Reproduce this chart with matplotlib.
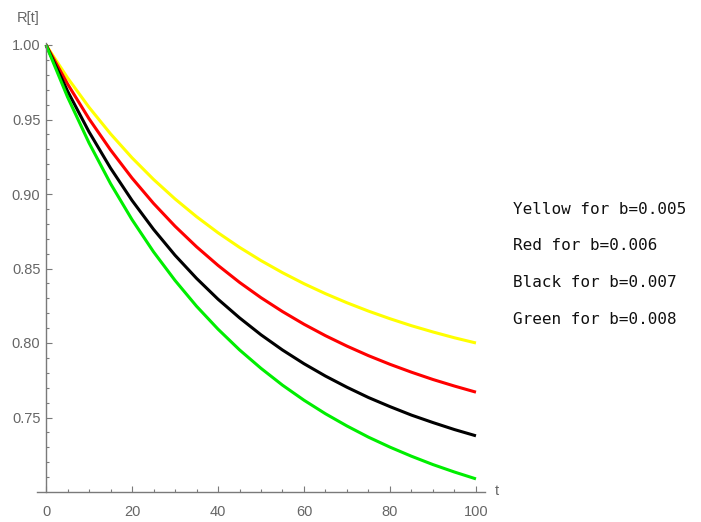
import matplotlib
matplotlib.use("Agg")
import matplotlib.pyplot as plt
import numpy as np

# values, every 5 units of t
t = [0, 5, 10, 15, 20, 25, 30, 35, 40, 45, 50,
     55, 60, 65, 70, 75, 80, 85, 90, 95, 100]
r_yellow = [1.0, 0.9780, 0.9582, 0.9404, 0.9243, 0.9098, 0.8967, 0.8848, 0.8740, 0.8642, 0.8553,
            0.8472, 0.8398, 0.8331, 0.8270, 0.8214, 0.8163, 0.8116, 0.8074, 0.8035, 0.8000]
r_red = [1.0, 0.9739, 0.9505, 0.9296, 0.9107, 0.8937, 0.8784, 0.8646, 0.8521, 0.8407, 0.8304,
         0.8211, 0.8126, 0.8049, 0.7979, 0.7915, 0.7857, 0.7804, 0.7755, 0.7711, 0.7670]
r_black = [1.0, 0.9691, 0.9417, 0.9174, 0.8957, 0.8763, 0.8589, 0.8434, 0.8294, 0.8169, 0.8055,
           0.7953, 0.7861, 0.7778, 0.7703, 0.7634, 0.7573, 0.7516, 0.7466, 0.7419, 0.7377]
r_green = [1.0, 0.9651, 0.9343, 0.9070, 0.8828, 0.8612, 0.8420, 0.8247, 0.8093, 0.7954, 0.7830,
           0.7717, 0.7616, 0.7525, 0.7443, 0.7368, 0.7301, 0.7240, 0.7184, 0.7134, 0.7088]

legend_lines = ["Yellow for b=0.005", "Red for b=0.006",
                "Black for b=0.007", "Green for b=0.008"]

axis_col = '#7a7a7a'
label_col = '#666666'

fig = plt.figure(figsize=(7.01, 5.22), dpi=100)
fig.patch.set_facecolor('white')
ax = fig.add_axes([37/701, 30/522, 448/701, 449/522])

ax.plot(t, r_yellow, color='#ffff00', lw=2.2, solid_capstyle='butt')
ax.plot(t, r_red, color='#ff0000', lw=2.2, solid_capstyle='butt')
ax.plot(t, r_black, color='#000000', lw=2.2, solid_capstyle='butt')
ax.plot(t, r_green, color='#00ee00', lw=2.2, solid_capstyle='butt')

ax.set_xlim(-2.1, 102.1)
ax.set_ylim(0.70, 0.70 + 449/1490)

#axes through the origin, mathematica style
ax.spines['left'].set_position(('data', 0))
ax.spines['bottom'].set_position(('data', 0.70))
ax.spines['top'].set_visible(False)
ax.spines['right'].set_visible(False)
for s in ['left', 'bottom']:
    ax.spines[s].set_color(axis_col)
    ax.spines[s].set_linewidth(1.0)

ax.set_xticks(np.arange(0, 101, 20))
ax.set_xticks(np.arange(0, 101, 5), minor=True)
ax.set_yticks([0.75, 0.80, 0.85, 0.90, 0.95, 1.00])
ax.set_yticks(np.arange(0.71, 1.0, 0.01), minor=True)
ax.set_yticklabels(['0.75', '0.80', '0.85', '0.90', '0.95', '1.00'])

ax.tick_params(which='both', direction='in', colors=axis_col, labelcolor=label_col,
               labelsize=10.5, width=0.8)
ax.tick_params(which='major', length=4)
ax.tick_params(which='minor', length=2.5)
ax.tick_params(axis='x', which='major', pad=9)
ax.tick_params(axis='y', which='major', pad=4)
for lab in ax.get_xticklabels() + ax.get_yticklabels():
    lab.set_family('Liberation Sans')

fig.text(28/701, 1 - 18/522, 'R[t]', color=label_col, fontsize=10.5,
         family='Liberation Sans', ha='center', va='center')
fig.text(497/701, 1 - 491/522, 't', color=label_col, fontsize=10.5,
         family='Liberation Sans', ha='center', va='center')

#legend text on the right
for i, txt in enumerate(legend_lines):
    fig.text(513/701, 1 - (209 + 36.7*i)/522, txt, fontsize=11.5,
             family='DejaVu Sans Mono', color='#111111', ha='left', va='center')

fig.savefig('out.png', dpi=100, facecolor='white')
